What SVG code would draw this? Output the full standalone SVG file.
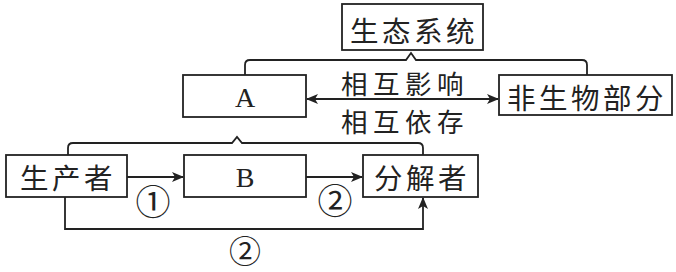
<svg xmlns="http://www.w3.org/2000/svg" width="676" height="272" viewBox="0 0 676 272">
<defs>
<marker id="ah" markerWidth="12" markerHeight="10" refX="11" refY="5" orient="auto-start-reverse" markerUnits="userSpaceOnUse">
<path d="M0,0 L12,5 L0,10 L3,5 Z" fill="#222"/>
</marker>
<style>
.box{fill:#fff;stroke:#222;stroke-width:1.8}
.ln{fill:none;stroke:#222;stroke-width:1.8}
.cjk{font-family:"Noto Sans CJK SC","Noto Sans",sans-serif;font-size:28.5px;fill:#222;letter-spacing:3.5px;text-anchor:middle;dominant-baseline:central}
.rel{font-size:26.5px;letter-spacing:5.5px}
.lat{font-family:"Liberation Serif",serif;font-size:28px;fill:#222;text-anchor:middle;dominant-baseline:central}
.num{font-family:"Noto Sans CJK SC",sans-serif;font-size:35px;fill:#222;text-anchor:middle;dominant-baseline:central}
.low{font-size:32px}
</style>
</defs>
<rect width="676" height="272" fill="#fff"/>
<g id="connectors">
<path class="ln" d="M245,75 V65 Q245,60 250,60 H406 L411,53 L416,60 H582 Q587,60 587,65 V75"/>
<path class="ln" d="M68,155 V148 Q68,143 73,143 H232 L237,137 L242,143 H418 Q423,143 423,148 V155"/>
<line class="ln" x1="307" y1="99" x2="498" y2="99" marker-start="url(#ah)" marker-end="url(#ah)"/>
<line class="ln" x1="127" y1="177" x2="183" y2="177" marker-end="url(#ah)"/>
<line class="ln" x1="306" y1="177" x2="362" y2="177" marker-end="url(#ah)"/>
<path class="ln" d="M65,197 V229 H423 V198" marker-end="url(#ah)"/>
</g>
<g id="ecosystem"><rect class="box" x="342" y="4" width="141" height="46"/><text class="cjk" x="414" y="29">生态系统</text></g>
<g id="A"><rect class="box" x="183" y="75" width="123" height="42"/><text class="lat" x="245" y="97">A</text></g>
<g id="abiotic"><rect class="box" x="499" y="75" width="173" height="40"/><text class="cjk" x="587" y="96">非生物部分</text></g>
<g id="label-interact"><text class="cjk rel" x="405" y="82">相互影响</text><text class="cjk rel" x="405" y="120">相互依存</text></g>
<g id="producer"><rect class="box" x="6" y="155" width="121" height="42"/><text class="cjk" x="68" y="176">生产者</text></g>
<g id="B"><rect class="box" x="184" y="155" width="122" height="42"/><text class="lat" x="245" y="177">B</text></g>
<g id="decomposer"><rect class="box" x="363" y="155" width="115" height="42"/><text class="cjk" x="422" y="176">分解者</text></g>
<g id="labels"><text class="num" x="153" y="199">①</text><text class="num" x="335" y="198">②</text><text class="num low" x="245" y="249">②</text></g>
</svg>
